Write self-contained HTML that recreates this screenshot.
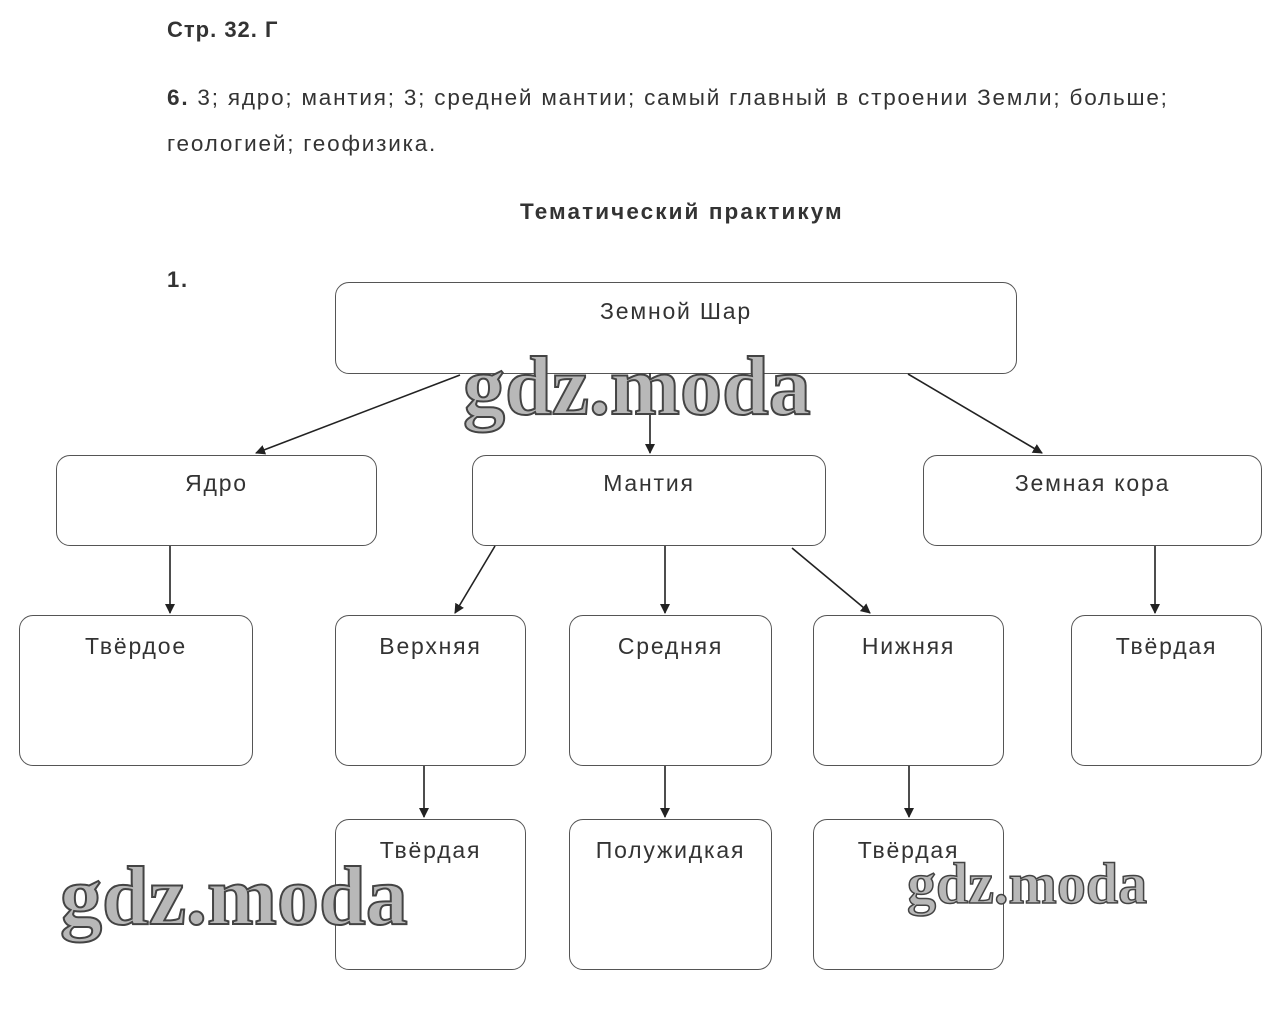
<!DOCTYPE html>
<html><head><meta charset="utf-8"><style>
body{margin:0;width:1279px;height:1035px;background:#fff;position:relative;overflow:hidden;font-family:"Liberation Sans",sans-serif;color:#333}
.t{position:absolute;white-space:nowrap;letter-spacing:1.8px}
.b{position:absolute;border:1.3px solid #555;border-radius:14px;box-sizing:border-box;text-align:center;font-size:23px;color:#333;padding-top:14px;letter-spacing:1.8px}
.wm{position:absolute;font-family:"Liberation Serif",serif;font-weight:bold;color:#b8b8b8;-webkit-text-stroke:2px #444;white-space:nowrap;letter-spacing:0px}
</style></head><body>
<div class="t" style="left:167px;top:17px;font-size:22px;font-weight:bold;letter-spacing:1px">Стр. 32. Г</div>
<div class="t" style="left:167px;top:85px;font-size:22.5px"><b>6.</b> 3; ядро; мантия; 3; средней мантии; самый главный в строении Земли; больше;</div>
<div class="t" style="left:167px;top:131px;font-size:22.5px">геологией; геофизика.</div>
<div class="t" style="left:520px;top:199px;font-size:22.5px;font-weight:bold;letter-spacing:2.1px">Тематический практикум</div>
<div class="t" style="left:167px;top:267px;font-size:22px;font-weight:bold">1.</div>

<div class="b" style="left:335px;top:282px;width:682px;height:92px;padding-top:15px">Земной Шар</div>
<div class="b" style="left:56px;top:455px;width:321px;height:91px">Ядро</div>
<div class="b" style="left:472px;top:455px;width:354px;height:91px">Мантия</div>
<div class="b" style="left:923px;top:455px;width:339px;height:91px">Земная кора</div>
<div class="b" style="left:19px;top:615px;width:234px;height:151px;padding-top:17px">Твёрдое</div>
<div class="b" style="left:335px;top:615px;width:191px;height:151px;padding-top:17px">Верхняя</div>
<div class="b" style="left:569px;top:615px;width:203px;height:151px;padding-top:17px">Средняя</div>
<div class="b" style="left:813px;top:615px;width:191px;height:151px;padding-top:17px">Нижняя</div>
<div class="b" style="left:1071px;top:615px;width:191px;height:151px;padding-top:17px">Твёрдая</div>
<div class="b" style="left:335px;top:819px;width:191px;height:151px;padding-top:17px">Твёрдая</div>
<div class="b" style="left:569px;top:819px;width:203px;height:151px;padding-top:17px">Полужидкая</div>
<div class="b" style="left:813px;top:819px;width:191px;height:151px;padding-top:17px">Твёрдая</div>

<svg width="1279" height="1035" style="position:absolute;left:0;top:0">
<defs><marker id="a" markerWidth="10" markerHeight="10" refX="9" refY="5" orient="auto" markerUnits="userSpaceOnUse"><path d="M0,0 L10,5 L0,10 z" fill="#222"/></marker></defs>
<g stroke="#222" stroke-width="1.6" marker-end="url(#a)">
<line x1="460" y1="375" x2="256" y2="453"/>
<line x1="650" y1="373" x2="650" y2="453"/>
<line x1="908" y1="374" x2="1042" y2="453"/>
<line x1="170" y1="546" x2="170" y2="613"/>
<line x1="495" y1="546" x2="455" y2="613"/>
<line x1="665" y1="546" x2="665" y2="613"/>
<line x1="792" y1="548" x2="870" y2="613"/>
<line x1="1155" y1="546" x2="1155" y2="613"/>
<line x1="424" y1="766" x2="424" y2="817"/>
<line x1="665" y1="766" x2="665" y2="817"/>
<line x1="909" y1="766" x2="909" y2="817"/>
</g></svg>
<div class="wm" style="left:463px;top:338px;font-size:84px">gdz.moda</div>
<div class="wm" style="left:60px;top:848px;font-size:84px">gdz.moda</div>
<div class="wm" style="left:907px;top:850px;font-size:58px;-webkit-text-stroke:1.5px #444">gdz.moda</div>
</body></html>
